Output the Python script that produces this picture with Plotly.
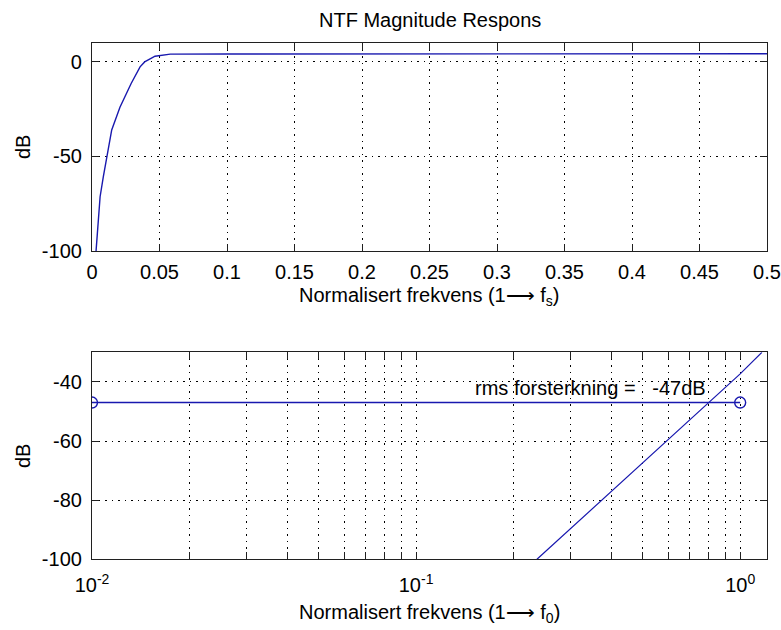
import numpy as np
import plotly.graph_objects as go

# ---- data ----
# Top: NTF magnitude vs normalised frequency (1 -> fs)
ntf_freq = [0.003, 0.004, 0.006, 0.0084, 0.011, 0.0146, 0.0207, 0.029, 0.0356, 0.039, 0.0467, 0.05, 0.058, 0.1, 0.2, 0.3, 0.4, 0.5]
ntf_db = [-100, -89, -71.3, -60.7, -50, -36, -24, -11.4, -2.6, 0, 3.0, 3.4, 4.1, 4.2, 4.2, 4.2, 4.3, 4.3]

# Bottom: in-band NTF (log frequency, 1 -> f0)
band_freq = [0.236, 0.3, 0.4, 0.5, 0.6, 0.8, 1.0, 1.167]
band_db = [-100, -89.6, -77.1, -67.4, -59.5, -47.0, -37.3, -30]

# rms gain marker line
rms_freq = [0.01, 1.0]
rms_db = [-47, -47]
rms_label = "rms forsterkning =\u00a0\u00a0\u00a0-47dB"

top_xticks = [0, 0.05, 0.1, 0.15, 0.2, 0.25, 0.3, 0.35, 0.4, 0.45, 0.5]
top_yticks = [-100, -50, 0]
bot_yticks = [-100, -80, -60, -40]
bot_xticks = [0.01, 0.1, 1.0]
bot_xlabels = ["10<sup>-2</sup>", "10<sup>-1</sup>", "10<sup>0</sup>"]
bot_minor = [0.02, 0.03, 0.04, 0.05, 0.06, 0.07, 0.08, 0.09,
             0.2, 0.3, 0.4, 0.5, 0.6, 0.7, 0.8, 0.9]

title_text = "NTF Magnitude Respons"
xlabel_top = "Normalisert frekvens (1\u27f6 f<sub>s</sub>)"
xlabel_bot = "Normalisert frekvens (1\u27f6 f<sub>0</sub>)"
ylabel = "dB"

# ---- figure ----
W, H = 781, 630
FONT = "Liberation Sans, Arial, sans-serif"
FS = 20
LINE = "rgb(25,25,175)"
AX = "#202020"
GD = "1.5px,5px"

fig = go.Figure()
fig.add_trace(go.Scatter(x=ntf_freq, y=ntf_db, mode="lines",
                         line=dict(color=LINE, width=1.4), xaxis="x", yaxis="y",
                         showlegend=False))
fig.add_trace(go.Scatter(x=rms_freq, y=rms_db, mode="lines+markers",
                         line=dict(color=LINE, width=1.4),
                         marker=dict(symbol="circle-open", size=11, color=LINE, line=dict(width=1.4)),
                         xaxis="x2", yaxis="y2", showlegend=False))
fig.add_trace(go.Scatter(x=band_freq, y=band_db, mode="lines",
                         line=dict(color=LINE, width=1.2), xaxis="x2", yaxis="y2",
                         showlegend=False))

common = dict(showline=True, linecolor=AX, linewidth=1.2, mirror="ticks",
              ticks="inside", ticklen=7, tickcolor=AX, tickwidth=1,
              showgrid=True, gridcolor="black", gridwidth=1, griddash=GD,
              zeroline=False, automargin=False,
              tickfont=dict(family=FONT, size=FS, color="black"))

def fmt(v):
    s = "%g" % v
    return s

fig.update_layout(
    width=W, height=H, autosize=False,
    margin=dict(l=0, r=0, t=0, b=0),
    paper_bgcolor="white", plot_bgcolor="white",
    font=dict(family=FONT, size=FS, color="black"),
    xaxis=dict(domain=[92 / W, 767 / W], range=[0, 0.5], tickvals=top_xticks,
               ticktext=[fmt(v) for v in top_xticks], anchor="y",
               ticklabelstandoff=3, **common),
    yaxis=dict(domain=[(H - 251) / H, (H - 43) / H], range=[-100, 10], tickvals=top_yticks,
               ticktext=[fmt(v) for v in top_yticks],
               anchor="x", ticklabelstandoff=5, **common),
    xaxis2=dict(domain=[92 / W, 767 / W], type="log", range=[-2, np.log10(1.21)],
                tickvals=bot_xticks, ticktext=bot_xlabels, anchor="y2",
                ticklabelstandoff=8,
                minor=dict(tickvals=bot_minor, ticks="inside", ticklen=7, tickcolor=AX,
                           showgrid=True, gridcolor="black", gridwidth=1, griddash=GD),
                **common),
    yaxis2=dict(domain=[(H - 559.3) / H, (H - 352.3) / H], range=[-100, -30],
                tickvals=bot_yticks, ticktext=[fmt(v) for v in bot_yticks],
                anchor="x2", ticklabelstandoff=5, **common),
)

ann = []
ann.append(dict(text=title_text, x=429.5 / W, y=1 - 20 / H, xref="paper", yref="paper",
                showarrow=False, xanchor="center", yanchor="middle",
                font=dict(family=FONT, size=FS)))
ann.append(dict(text=xlabel_top, x=429.5 / W, y=1 - 296 / H, xref="paper", yref="paper",
                showarrow=False, xanchor="center", yanchor="middle",
                font=dict(family=FONT, size=FS)))
ann.append(dict(text=xlabel_bot, x=429.5 / W, y=1 - 613 / H, xref="paper", yref="paper",
                showarrow=False, xanchor="center", yanchor="middle",
                font=dict(family=FONT, size=FS)))
for yc in [147, 456]:
    ann.append(dict(text=ylabel, x=23 / W, y=1 - yc / H, xref="paper", yref="paper",
                    showarrow=False, xanchor="center", yanchor="middle", textangle=-90,
                    font=dict(family=FONT, size=FS)))
ann.append(dict(text=rms_label, x=np.log10(0.150), y=-42.0, xref="x2", yref="y2",
                showarrow=False, xanchor="left", yanchor="middle",
                font=dict(family=FONT, size=FS)))
fig.update_layout(annotations=ann)

fig.write_html("out.html")
